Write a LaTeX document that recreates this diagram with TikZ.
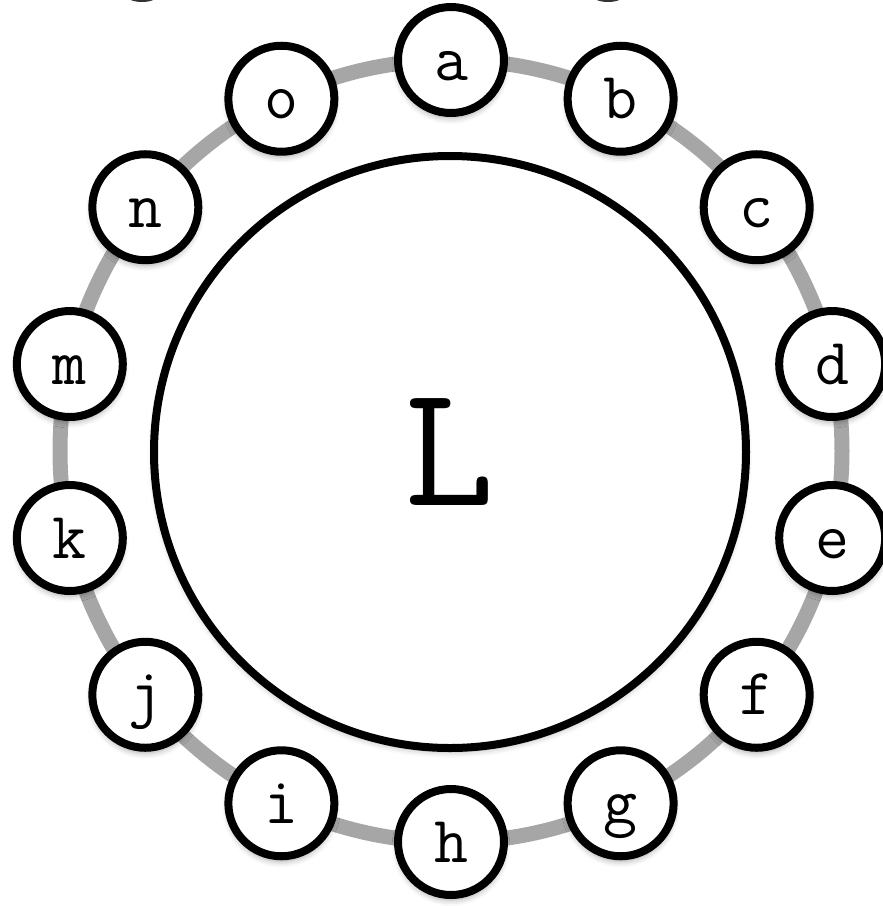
\documentclass[tikz,border=0pt]{standalone}
\usetikzlibrary{shadows.blur}
\definecolor{ringgray}{RGB}{166,166,166}
\begin{document}
\begin{tikzpicture}[x=1pt,y=-1pt,
  letter/.style={circle, draw=black, line width=8pt, fill=white,
    minimum size=106pt, inner sep=0pt, text height=40pt, text depth=0pt,
    font=\fontsize{66}{66}\selectfont\ttfamily,
    blur shadow={shadow xshift=0pt, shadow yshift=-5pt, shadow blur radius=6pt, shadow opacity=35}},
  bigcirc/.style={circle, draw=black, line width=8pt, fill=white,
    minimum size=592pt, inner sep=0pt,
    font=\fontsize{175}{175}\selectfont\ttfamily,
    blur shadow={shadow xshift=0pt, shadow yshift=-4pt, shadow blur radius=6pt, shadow opacity=30}},
  ring/.style={line width=15pt, draw=ringgray}]
\useasboundingbox (0,0) rectangle (883,906);
\clip (0,0) rectangle (883,906);
\fill[black!80] (142,-6) ellipse (17 and 8);
\fill[black!80] (608,-6) ellipse (17 and 8);
\coordinate (ctr) at (451,451);
\draw[ring] (ctr) circle (391);
\node[bigcirc] (L) at (450,452) {L};
\foreach \lbl [count=\i from 0] in {a,b,c,d,e,f,g,h,i,j,k,m,n,o} {
  \pgfmathsetmacro\ang{90-\i*360/14}
  \node[letter] (\lbl) at ({451+391*cos(\ang)},{451-391*sin(\ang)}) {\lbl};
}
\end{tikzpicture}
\end{document}
